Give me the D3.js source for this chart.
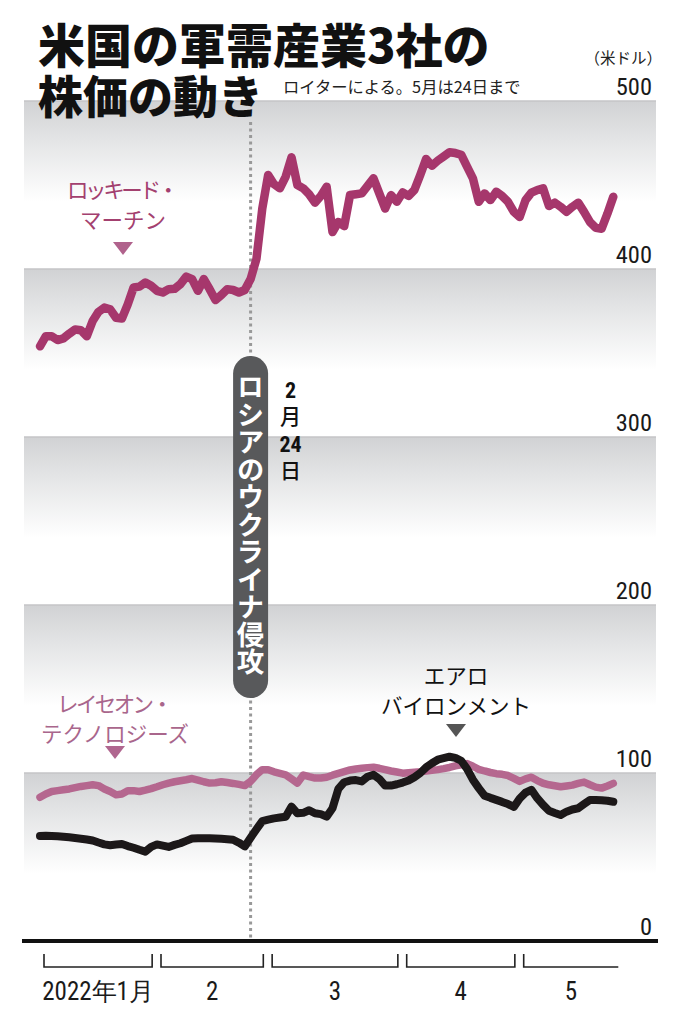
<!DOCTYPE html>
<html><head><meta charset="utf-8">
<script src="https://cdn.jsdelivr.net/npm/d3@7/dist/d3.min.js"></script>
<style>
html,body{margin:0;padding:0;background:#fff;}
svg{display:block;}
</style></head>
<body>
<svg id="chart" width="682" height="1024"></svg>
<script>
// ---- data (trading days, 2022-01-03 .. 2022-05-24) ----
const lockheed = [354,360,360,357.7,358.7,361.5,364,363.5,360,369,374.5,377,376,371,370.5,379,389,389.5,392,390,
 387,386,388,388.2,391,395.5,394,387,394,388,381.5,384.5,388,387.5,386,387.5,394,406,436,
 456,450.5,448,455,466.5,450,448,444.5,439.5,443.5,449,422,428,425.5,444,444.5,445,449.5,454,445,436,444,440,
 445.5,443.5,447,456,465.5,461.5,464.5,467,469.5,469,468,461,454,440,445,441,446,443.5,440,434,
 431,441,445.5,447,448,437.5,439.5,437,434,437,439.5,434,428,424.5,424,433,443];
const raytheon = [85.5,87.5,89,89.5,90,90.5,91.3,92,92.5,93,92.5,90.5,89,87,87.5,89.5,89.5,89,89.8,90.7,
 91.8,93,94,94.8,95.4,96,96.7,95.8,94.8,94,94.2,94.8,94.3,93.8,93.2,92.5,95,99,102,
 102,100.7,99.8,98.9,96.5,94,98.8,97.8,97,97,97.5,98.7,99.8,100.8,101.8,102.4,102.8,103.2,103.4,102.8,102,101.2,100.6,
 99.9,100.2,100.5,100.8,101.2,101.6,102,102.6,103.3,104.2,104.9,105.6,104,102.2,101.2,100.3,99.6,99.2,98.5,96.8,
 95,96.5,97.5,95.5,93.9,93,92.4,91.8,92.3,92.8,93.8,94.6,93,91.6,91,92.3,93.8];
const aerovironment = [62.5,62.7,62.5,62.3,62,61.7,61.3,60.9,60.4,59.8,58.6,57.5,57,57.4,57.7,56.5,55.5,54.3,53.2,56,
 57.5,56.8,56,57.2,58.2,59.6,61,61.1,61.1,61.1,61,60.8,60.6,60.3,58.5,56.3,61.5,66.5,71.3,
 72.2,73,73.5,74,80,76,76.3,77.8,76,75.5,74,79,90.5,94.5,95.5,95.8,95,97.8,99,96.5,92.5,92.5,93.3,
 94.3,95.5,97.5,100,103.4,105.8,107.9,108.8,109.7,109,107.3,102.5,96,91,86.5,85.2,84,82.8,81.5,79.8,
 84.8,88.3,90,85,81,77.5,76.2,75,77,78.3,79,81.5,83.9,83.9,83.8,83.5,82.9];
const monthLabels = ["2022年1月","2","3","4","5"];
const monthDays = [20,19,23,20,17];          // trading days per month
const yTicks = [0,100,200,300,400,500];
const invasionIndex = 36;                    // 2022-02-24
const seriesNames = [["ロッキード・","マーチン"],["レイセオン・","テクノロジーズ"],["エアロ","バイロンメント"]];

// ---- layout ----
const svg = d3.select("#chart");
const N = lockheed.length;
const x = d3.scaleLinear().domain([0, N-1]).range([40, 613.3]);
const y = d3.scaleLinear().domain([0, 500]).range([941, 101]);
const gridL = 24, gridR = 656;
const CJK = "'Noto Sans CJK JP','Noto Sans',sans-serif";
const NUM = "'Liberation Sans Narrow','Roboto Condensed','Liberation Sans',sans-serif";

const defs = svg.append("defs");
const grad = defs.append("linearGradient").attr("id","band").attr("x1",0).attr("y1",0).attr("x2",0).attr("y2",1);
grad.append("stop").attr("offset","0%").attr("stop-color","#d1d2d4");
grad.append("stop").attr("offset","25%").attr("stop-color","#e5e6e7");
grad.append("stop").attr("offset","60%").attr("stop-color","#ffffff");
grad.append("stop").attr("offset","100%").attr("stop-color","#ffffff");

// bands
const bandTops = yTicks.filter(d => d > 0);
svg.append("g").selectAll("rect").data(bandTops).join("rect")
  .attr("x", gridL).attr("width", gridR - gridL)
  .attr("y", d => y(d)).attr("height", d => y(d-100) - y(d))
  .attr("fill","url(#band)");
// grid lines
svg.append("g").selectAll("line").data(bandTops).join("line")
  .attr("x1", gridL).attr("x2", gridR).attr("y1", d => y(d)).attr("y2", d => y(d))
  .attr("stroke","#c4c5c7").attr("stroke-width",1.5);

// title
svg.append("text").attr("x",38).attr("y",63).attr("font-family",CJK).attr("font-weight",900)
  .attr("font-size",47).attr("fill","#111").text("米国の軍需産業3社の");
svg.append("text").attr("x",38).attr("y",114).attr("font-family",CJK).attr("font-weight",900)
  .attr("font-size",45).attr("fill","#111").text("株価の動き");
svg.append("text").attr("x",283).attr("y",93).attr("font-family",CJK).attr("font-weight",400)
  .attr("font-size",16.3).attr("fill","#222").text("ロイターによる。5月は24日まで");
svg.append("text").attr("x",662).attr("y",64).attr("text-anchor","end").attr("font-family",CJK)
  .attr("font-size",15.5).attr("fill","#222").text("（米ドル）");

// y tick labels
svg.append("g").selectAll("text").data(yTicks).join("text")
  .attr("x", 652).attr("y", d => y(d) - 6).attr("text-anchor","end")
  .attr("font-family", NUM).attr("font-size", 24.5).attr("fill","#1a1a1a")
  .text(d => d);

// invasion dotted line
svg.append("line").attr("x1", x(invasionIndex)).attr("x2", x(invasionIndex))
  .attr("y1", 122).attr("y2", y(0)).attr("stroke","#999").attr("stroke-width",3)
  .attr("stroke-dasharray","3,3.5");

// lines
const line = d3.line().x((d,i) => x(i)).y(d => y(d)).curve(d3.curveLinear);
const series = [
  {data: raytheon, color:"#b5678f", w:7.5},
  {data: aerovironment, color:"#1c1819", w:8},
  {data: lockheed, color:"#a6376c", w:8.5}
];
svg.append("g").selectAll("path").data(series).join("path")
  .attr("d", d => line(d.data)).attr("fill","none")
  .attr("stroke", d => d.color).attr("stroke-width", d => d.w)
  .attr("stroke-linejoin","round").attr("stroke-linecap","round");

// baseline
svg.append("line").attr("x1",22).attr("x2",658).attr("y1",y(0)).attr("y2",y(0))
  .attr("stroke","#111").attr("stroke-width",4);

// pill annotation
const px = x(invasionIndex);
svg.append("rect").attr("x", px-17.5).attr("y",356).attr("width",35).attr("height",342)
  .attr("rx",17.5).attr("ry",17.5).attr("fill","#58595b");
svg.append("text").attr("x", px).attr("y", 373)
  .attr("font-family",CJK).attr("font-weight",700).attr("font-size",27.5).attr("fill","#fff")
  .style("writing-mode","vertical-rl").style("text-orientation","upright")
  .text("ロシアのウクライナ侵攻");
const dateParts = [["2",398],["月",424],["24",452],["日",478]];
svg.append("g").selectAll("text").data(dateParts).join("text")
  .attr("x", px+40).attr("y", d => d[1]).attr("text-anchor","middle")
  .attr("font-family", (d,i) => i % 2 === 0 ? NUM : CJK)
  .attr("font-weight", (d,i) => i % 2 === 0 ? 700 : 500)
  .attr("font-size", (d,i) => i % 2 === 0 ? 22 : 21).attr("fill","#111")
  .text(d => d[0]);

// series labels
const labelSpecs = [
  {cx:123, y1:198, color:"#a3406f", tri:"#b0628c", ty:242, len:[112, null]},
  {cx:115, y1:712, color:"#a9668c", tri:"#b0668f", ty:746, len:[116, null]},
  {cx:456, y1:684, color:"#111", tri:"#555", ty:724, len:[null, null]}
];
labelSpecs.forEach((s, k) => {
  const g = svg.append("g");
  seriesNames[k].forEach((name, i) => {
    const t = g.append("text").attr("x", s.cx).attr("y", s.y1 + i*30).attr("text-anchor","middle")
      .attr("font-family", CJK).attr("font-size", 21.5).attr("fill", s.color).text(name);
    if (s.len[i]) t.attr("textLength", s.len[i]).attr("lengthAdjust", "spacing");
  });
  g.append("path").attr("d", `M${s.cx-10},${s.ty} L${s.cx+10},${s.ty} L${s.cx},${s.ty+13} Z`)
    .attr("fill", s.tri);
});

// month brackets
let start = 0;
const months = monthDays.map((n, i) => { const m = {label: monthLabels[i], s: start, e: start + n - 1, last: i === monthDays.length-1}; start += n; return m; });
const bg = svg.append("g");
months.forEach(m => {
  const x0 = x(m.s) + 4, x1 = x(m.e) + 1;
  const p = m.last ? `M${x0},954 V967 H${x1+4}` : `M${x0},954 V967 H${x1} V954`;
  bg.append("path").attr("d", p).attr("fill","none").attr("stroke","#222").attr("stroke-width",1.6);
  bg.append("text").attr("x", (x0 + x1)/2 + (m.last ? 2 : 0)).attr("y", 1000).attr("text-anchor","middle")
    .attr("font-family", NUM).attr("font-size", 25).attr("fill","#1a1a1a")
    .text(m.label);
});
</script>
</body></html>
